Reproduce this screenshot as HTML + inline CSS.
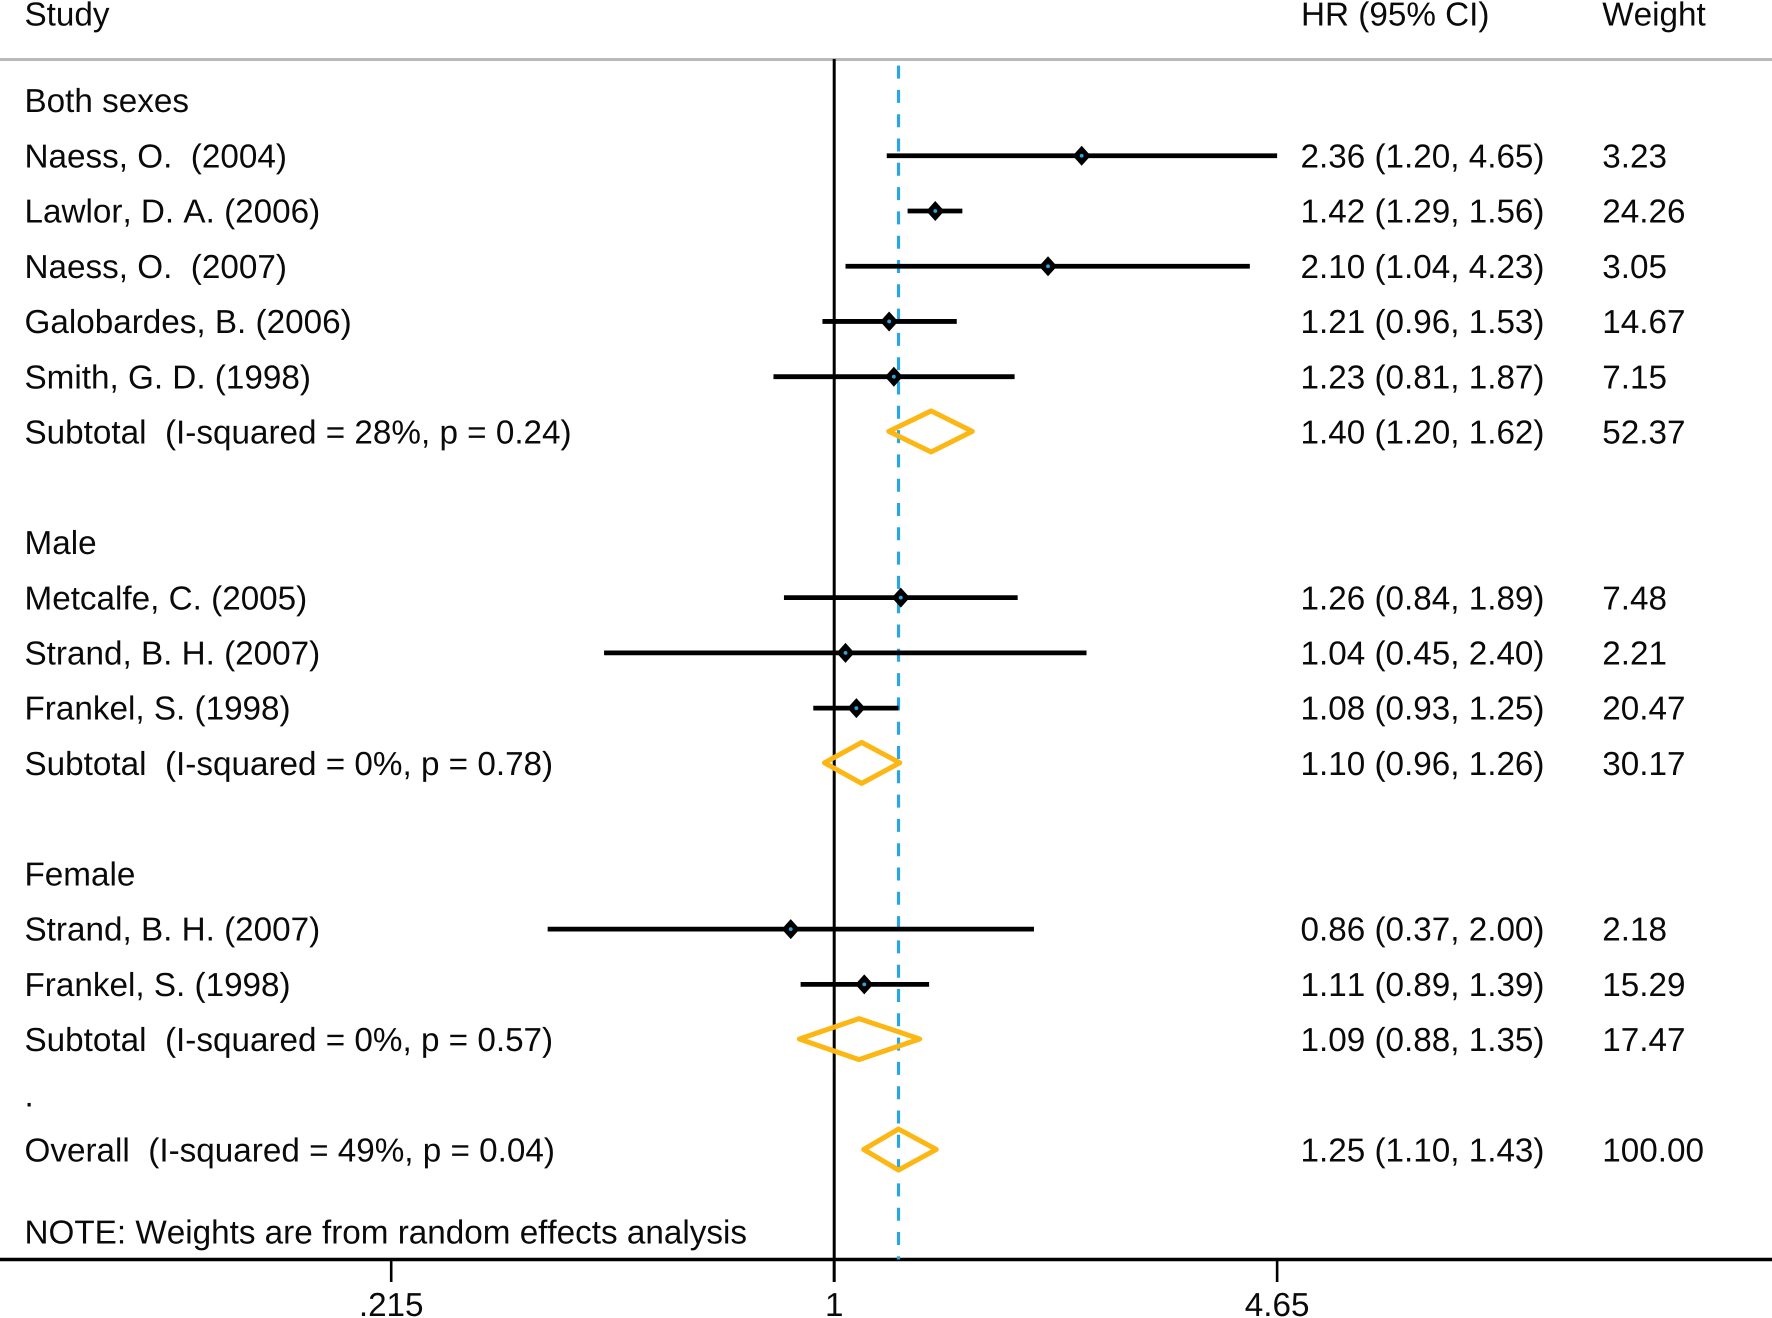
<!DOCTYPE html>
<html lang="en">
<head>
<meta charset="utf-8">
<title>Forest plot of hazard ratios</title>
<style>
html,body{margin:0;padding:0;background:#fff;width:1772px;height:1318px;overflow:hidden}
svg{display:block}
text{font-family:"Liberation Sans",Arial,sans-serif;font-size:33.25px;fill:#0a0a0a;font-kerning:none;text-rendering:geometricPrecision}
</style>
</head>
<body>
<svg id="chart" xmlns="http://www.w3.org/2000/svg" width="1772" height="1318" viewBox="0 0 1772 1318">
  <rect x="0" y="0" width="1772" height="1318" fill="#fff"/>
  <text x="24.5" y="25.5">Study</text>
  <text x="1301" y="25.5">HR (95% CI)</text>
  <text x="1602.3" y="25.5">Weight</text>
  <line x1="0" x2="1772" y1="59.5" y2="59.5" stroke="#b9b9b9" stroke-width="3"/>
  <text x="24.5" y="1243.5">NOTE: Weights are from random effects analysis</text>
  <g id="plot"></g>
</svg>
<script>
const rowLabels = ["Both sexes","Naess, O.  (2004)","Lawlor, D. A. (2006)","Naess, O.  (2007)","Galobardes, B. (2006)","Smith, G. D. (1998)","Subtotal  (I-squared = 28%, p = 0.24)","","Male","Metcalfe, C. (2005)","Strand, B. H. (2007)","Frankel, S. (1998)","Subtotal  (I-squared = 0%, p = 0.78)","","Female","Strand, B. H. (2007)","Frankel, S. (1998)","Subtotal  (I-squared = 0%, p = 0.57)",".","Overall  (I-squared = 49%, p = 0.04)"];
const rowKinds = ["group","study","study","study","study","study","pooled","blank","group","study","study","study","pooled","blank","group","study","study","pooled","blank","pooled"];
const hazardRatios = [null,2.36,1.42,2.10,1.21,1.23,1.40,null,null,1.26,1.04,1.08,1.10,null,null,0.86,1.11,1.09,null,1.25];
const ciLower = [null,1.20,1.29,1.04,0.96,0.81,1.20,null,null,0.84,0.45,0.93,0.96,null,null,0.37,0.89,0.88,null,1.10];
const ciUpper = [null,4.65,1.56,4.23,1.53,1.87,1.62,null,null,1.89,2.40,1.25,1.26,null,null,2.00,1.39,1.35,null,1.43];
const weights = [null,3.23,24.26,3.05,14.67,7.15,52.37,null,null,7.48,2.21,20.47,30.17,null,null,2.18,15.29,17.47,null,100.00];
const overallEffect = 1.25;
const nullEffect = 1;
const tickValues = [0.215,1,4.65];
const tickLabels = [".215","1","4.65"];

const NS = "http://www.w3.org/2000/svg";
const plot = document.getElementById("plot");
const xScale = v => 834.2 + 288.2 * Math.log(v);
const rowY = i => 100.5 + 55.24 * i;
const axisY = 1259.5;

function make(tag, attrs, parent) {
  const el = document.createElementNS(NS, tag);
  for (const k in attrs) el.setAttribute(k, attrs[k]);
  (parent || plot).appendChild(el);
  return el;
}

// x axis line
const axisLine = make("line", {x1:0, x2:1772, y1:axisY, y2:axisY, stroke:"#000", "stroke-width":3.4});



// no-effect reference line
const nullLine = make("line", {x1:xScale(nullEffect), x2:xScale(nullEffect), y1:59, y2:1282, stroke:"#000", "stroke-width":3});



// overall effect dashed line
const overallLine = make("line", {x1:xScale(overallEffect), x2:xScale(overallEffect), y1:65.6, y2:axisY, stroke:"#2ba6e0", "stroke-width":3.2, "stroke-dasharray":"13 11.3"});



// ticks and tick labels
tickValues.forEach((v, i) => {
  const tick = make("line", {x1:xScale(v), x2:xScale(v), y1:axisY, y2:1282, stroke:"#000", "stroke-width":2.6});
  
  
  const label = make("text", {x:xScale(v), y:1316, "text-anchor":"middle"});
  
  
  label.textContent = tickLabels[i];
});

// rows
rowLabels.forEach((name, i) => {
  const y = rowY(i);
  const baseline = y + 11.6;
  if (name) {
    const label = make("text", {x:24.5, y:baseline});
    
    
    label.setAttribute('xml:space', 'preserve');
    label.style.whiteSpace = 'pre';
    label.textContent = name;
  }
  if (hazardRatios[i] === null) return;
  const cx = xScale(hazardRatios[i]);
  const lo = xScale(ciLower[i]);
  const hi = xScale(ciUpper[i]);
  if (rowKinds[i] === "study") {
    const ci = make("line", {x1:lo, x2:hi, y1:y, y2:y, stroke:"#000", "stroke-width":4.8});
    
    
    const marker = make("polygon", {points:`${cx-9},${y} ${cx},${y-10} ${cx+9},${y} ${cx},${y+10}`, fill:"#000"});
    
    
    const dot = make("circle", {cx:cx, cy:y, r:1.9, fill:"#2ba6e0"});
    
    
  } else {
    const diamond = make("polygon", {points:`${lo+2},${y-0.6} ${cx},${y-21} ${hi-1},${y-0.6} ${cx},${y+20}`, fill:"none", stroke:"#fdb714", "stroke-width":5, "stroke-linejoin":"round"});
    
    
  }
  const hrText = make("text", {x:1300.5, y:baseline});
  
  
  hrText.textContent = `${hazardRatios[i].toFixed(2)} (${ciLower[i].toFixed(2)}, ${ciUpper[i].toFixed(2)})`;
  const weightText = make("text", {x:1602.3, y:baseline});
  
  
  weightText.textContent = weights[i].toFixed(2);
});
</script>
</body>
</html>
